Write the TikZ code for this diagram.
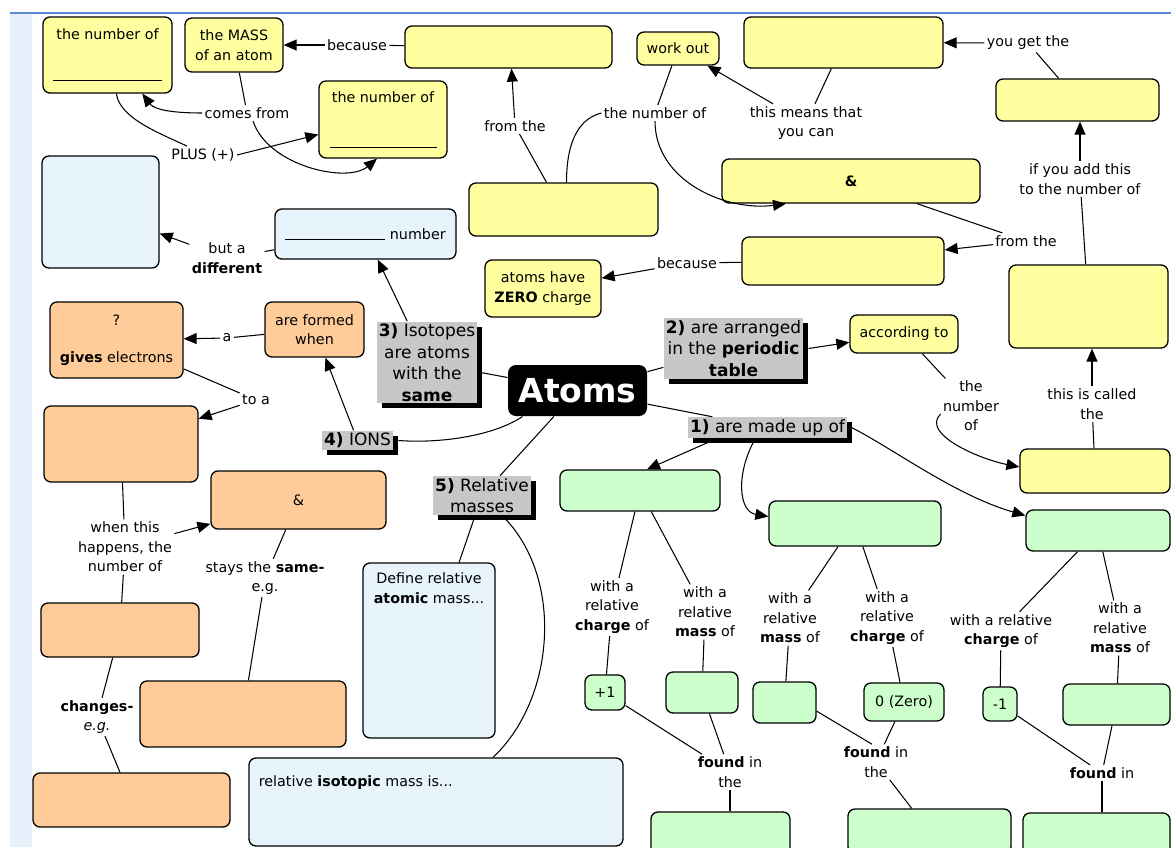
\documentclass[tikz,border=0pt]{standalone}
\usepackage{fontspec}
\setmainfont{DejaVu Sans}
\usetikzlibrary{arrows.meta,shadows}
\definecolor{cmapyellow}{RGB}{255,255,160}
\definecolor{cmaporange}{RGB}{255,204,153}
\definecolor{cmapgreen}{RGB}{204,255,204}
\definecolor{cmapblue}{RGB}{231,244,252}
\definecolor{cmapframe}{RGB}{90,140,210}
\definecolor{cmapstrip}{RGB}{232,240,251}

\begin{document}
\begin{tikzpicture}[x=1pt,y=-1pt,line width=1.05pt,
  font=\fontsize{14.3}{19.5}\selectfont,
  >={Triangle[length=13pt,width=11pt]},
  cbox/.style={draw,rounded corners=7pt,line width=1.3pt,align=center,inner sep=2pt},
  ybox/.style={cbox,fill=cmapyellow},
  obox/.style={cbox,fill=cmaporange},
  gbox/.style={cbox,fill=cmapgreen},
  bbox/.style={cbox,fill=cmapblue},
  phrase/.style={align=center,inner sep=2pt},
  topic/.style={fill=black!22,align=center,inner sep=2pt,font=\fontsize{17}{21.5}\selectfont,
    general shadow={fill=black,shadow xshift=5pt,shadow yshift=-5pt}}]
  \useasboundingbox (0,0) rectangle (1171,847);
  \fill[white] (0,0) rectangle (1171,847);
  \fill[cmapstrip] (10,13) rectangle (32,847);
  \draw[cmapframe,line width=1.2pt] (10,13)--(1171,13);

  \node[ybox,minimum width=129pt,minimum height=76pt] (y1) at (107.5,55) {the number of\\[22pt]\rule{109pt}{0.8pt}};
  \node[ybox,minimum width=98pt,minimum height=54pt] (y2) at (234,45) {the MASS\\of an atom};
  \node[ybox,minimum width=207pt,minimum height=42pt] (y3) at (508.5,47) {};
  \node[ybox,minimum width=128pt,minimum height=77pt] (y4) at (383,119.5) {the number of\\[26pt]\rule{107pt}{0.8pt}};
  \node[ybox,minimum width=82pt,minimum height=33pt] (y5) at (678,48.5) {work out};
  \node[ybox,minimum width=199pt,minimum height=51pt] (y6) at (843.5,42.5) {};
  \node[ybox,minimum width=163pt,minimum height=42pt] (y7) at (1077.5,100) {};
  \node[ybox,minimum width=258pt,minimum height=44pt] (y8) at (851,181) {\textbf{\&}};
  \node[ybox,minimum width=202pt,minimum height=48pt] (y9) at (843,261) {};
  \node[ybox,minimum width=189pt,minimum height=53pt] (y10) at (563.5,209.5) {};
  \node[ybox,minimum width=116pt,minimum height=57pt] (y11) at (543,288.5) {atoms have\\\textbf{ZERO} charge};
  \node[ybox,minimum width=159pt,minimum height=83pt] (y12) at (1088.5,306.5) {};
  \node[ybox,minimum width=108pt,minimum height=38pt] (y13) at (904,334) {according to};
  \node[ybox,minimum width=150pt,minimum height=44pt] (y14) at (1095,471) {};

  \node[bbox,minimum width=117pt,minimum height=112pt] (b1) at (100.5,212) {};
  \node[bbox,minimum width=181pt,minimum height=50pt] (b2) at (365.5,234) {\rule{100pt}{0.7pt} number};
  \node[bbox,minimum width=132pt,minimum height=175pt] (b3) at (429,650.5) {};
  \node[bbox,minimum width=374pt,minimum height=88pt] (b4) at (436,802) {};
  \node[phrase,anchor=north] (b3txt) at ([yshift=-8pt]b3.north) {Define relative\\\textbf{atomic} mass...};
  \node[phrase,anchor=west] (b4txt) at ([xshift=8pt,yshift=-25pt]b4.north west) {relative \textbf{isotopic} mass is...};

  \node[obox,minimum width=133pt,minimum height=76pt] (o1) at (116.5,340) {?\\[18pt]\textbf{gives} electrons};
  \node[obox,minimum width=99pt,minimum height=55pt] (o2) at (314.5,329.5) {are formed\\when};
  \node[obox,minimum width=154pt,minimum height=76pt] (o3) at (121,444) {};
  \node[obox,minimum width=175pt,minimum height=58pt] (o4) at (298.5,500) {\&};
  \node[obox,minimum width=158pt,minimum height=54pt] (o5) at (120,630) {};
  \node[obox,minimum width=206pt,minimum height=66pt] (o6) at (243,714) {};
  \node[obox,minimum width=197pt,minimum height=54pt] (o7) at (131.5,800) {};

  \node[gbox,minimum width=160pt,minimum height=41pt] (g1) at (640,490.5) {};
  \node[gbox,minimum width=172pt,minimum height=45pt] (g2) at (855,523.5) {};
  \node[gbox,minimum width=144pt,minimum height=41pt] (g3) at (1098,530.5) {};
  \node[gbox,minimum width=40pt,minimum height=35pt] (g4) at (605,692.5) {+1};
  \node[gbox,minimum width=72pt,minimum height=41pt] (g5) at (702,692.5) {};
  \node[gbox,minimum width=63pt,minimum height=41pt] (g6) at (784.5,702.5) {};
  \node[gbox,minimum width=80pt,minimum height=38pt] (g7) at (904,702) {0 (Zero)};
  \node[gbox,minimum width=34pt,minimum height=34pt] (g8) at (1000,704) {-1};
  \node[gbox,minimum width=107pt,minimum height=41pt] (g9) at (1116.5,704.5) {};
  \node[gbox,minimum width=139pt,minimum height=45pt] (g10) at (720.5,834.5) {};
  \node[gbox,minimum width=163pt,minimum height=45pt] (g11) at (929.5,831.5) {};
  \node[gbox,minimum width=147pt,minimum height=45pt] (g12) at (1096.5,835.5) {};

  \node[topic] (t3) at (427,362.5) {\textbf{3)} Isotopes\\are atoms\\with the\\\textbf{same}};
  \node[topic] (t4) at (357.5,440.5) {\textbf{4)} IONS};
  \node[topic] (t2) at (733.5,348.5) {\textbf{2)} are arranged\\in the \textbf{periodic}\\\textbf{table}};
  \node[topic] (t1) at (767.5,427.5) {\textbf{1)} are made up of};
  \node[topic] (t5) at (482,495.5) {\textbf{5)} Relative\\masses};
  \node[fill=black,text=white,rounded corners=8pt,minimum width=139pt,minimum height=51pt,
    font=\fontsize{33}{36}\selectfont\bfseries] (atoms) at (577.5,390.5) {Atoms};

  \node[phrase] (lbec1) at (357,45) {because};
  \node[phrase] (lcomes) at (247,113) {comes from};
  \node[phrase] (lplus) at (203,155) {PLUS (+)};
  \node[phrase] (lfrom1) at (515,126) {from the};
  \node[phrase] (lnum1) at (655,113) {the number of};
  \node[phrase] (lmeans) at (806,123) {this means that\\you can};
  \node[phrase] (lyouget) at (1028,43) {you get the};
  \node[phrase] (lifadd) at (1080,179) {if you add this\\to the number of};
  \node[phrase] (lfrom2) at (1026,241) {from the};
  \node[phrase] (lbec2) at (687,263) {because};
  \node[phrase] (lbuta) at (227,258) {but a\\\textbf{different}};
  \node[phrase] (la) at (227,338) {a};
  \node[phrase] (ltoa) at (256,400) {to a};
  \node[phrase] (lwhen) at (125,547) {when this\\happens, the\\number of};
  \node[phrase] (lstays) at (265,578) {stays the \textbf{same-}\\e.g.};
  \node[phrase] (lchanges) at (97,717) {\textbf{changes-}\\\textit{e.g.}};
  \node[phrase] (laccnum) at (971,406) {the\\number\\of};
  \node[phrase] (lcalled) at (1092,404) {this is called\\the};
  \node[phrase] (lch1) at (612,607) {with a\\relative\\\textbf{charge} of};
  \node[phrase] (lma1) at (705,612) {with a\\relative\\\textbf{mass} of};
  \node[phrase] (lma2) at (790,618) {with a\\relative\\\textbf{mass} of};
  \node[phrase] (lch2) at (887,618) {with a\\relative\\\textbf{charge} of};
  \node[phrase] (lch3) at (1001,631) {with a relative\\\textbf{charge} of};
  \node[phrase] (lma3) at (1120,628) {with a\\relative\\\textbf{mass} of};
  \node[phrase] (lfound1) at (730,772) {\textbf{found} in\\the};
  \node[phrase] (lfound2) at (876,762) {\textbf{found} in\\the};
  \node[phrase] (lfound3) at (1102,773) {\textbf{found} in};

  \draw (y3) -- (lbec1);
  \draw[->] (lbec1) -- (y2);
  \draw (y2) -- (lcomes);
  \draw[->] (lcomes.west) .. controls +(-30,0) and +(12,16) .. (y1.-48);
  \draw (y1.-77) .. controls +(3,25) and +(-25,-12) .. ([xshift=-16pt]lplus.north);
  \draw[->] (lplus.east) -- ([yshift=-15pt]y4.west);
  \draw[->] ([xshift=6pt]lcomes.south) .. controls +(15,45) and +(-30,25) .. ([xshift=-6pt]y4.south);
  \draw ([xshift=-17pt]y10.north) -- (lfrom1);
  \draw[->] (lfrom1) -- ([xshift=3pt]y3.south);
  \draw ([xshift=3pt]y10.north) .. controls +(0,-45) and +(-20,5) .. (lnum1.west);
  \draw (y5) -- (lnum1);
  \draw[->] (lnum1.south) .. controls +(0,60) and +(-60,8) .. ([xshift=-65pt]y8.south);
  \draw (y6) -- (lmeans);
  \draw[->] (lmeans) -- (y5);
  \draw[->] (lyouget) -- (y6);
  \draw (y7) -- (lyouget);
  \draw[->] (lifadd) -- (lifadd |- y7.south);
  \draw (y12) -- (lifadd);
  \draw (y8) -- (lfrom2);
  \draw[->] (lfrom2) -- (y9);
  \draw (y9) -- (lbec2);
  \draw[->] (lbec2) -- (y11);
  \draw (b2) -- (lbuta);
  \draw[->] (lbuta) -- (b1);
  \draw (o2) -- (la);
  \draw[->] (la) -- (o1);
  \draw (o1) -- (ltoa);
  \draw[->] (ltoa) -- (o3);
  \draw (o3) -- (lwhen);
  \draw[->] (lwhen) -- (o4);
  \draw (lwhen) -- (o5);
  \draw (o4) -- (lstays);
  \draw (lstays) -- (o6);
  \draw (o5) -- (lchanges);
  \draw (lchanges) -- (o7);
  \draw[->] (t3) -- (b2);
  \draw[->] (t4) -- (o2);
  \draw (atoms) -- (t3);
  \draw ([xshift=-55pt]atoms.south) .. controls +(-30,20) and +(40,3) .. ([xshift=5pt]t4.east);
  \draw (atoms) -- (t5);
  \draw (t5) -- (b3);
  \draw ([xshift=20pt]t5.south) .. controls +(63,62) and +(62,-58) .. ([xshift=57pt]b4.north);
  \draw (atoms) -- (t2);
  \draw[->] ([xshift=5pt]t2.east) -- (y13);
  \draw (y13) -- (laccnum);
  \draw[->] ([yshift=-8pt]laccnum.west) .. controls +(-20,20) and +(-40,-8) .. ([yshift=4pt]y14.west);
  \draw[->] (lcalled) -- (lcalled |- y12.south);
  \draw (y14) -- (lcalled);
  \draw (atoms) -- (t1);
  \draw[->] ([xshift=-50pt]t1.south) -- ([xshift=7pt]g1.north);
  \draw[->] ([xshift=-12pt]t1.south) .. controls +(-20,35) and +(-30,-5) .. ([yshift=7pt]g2.west);
  \draw[->] ([xshift=4pt]t1.east) .. controls +(40,20) and +(-70,-20) .. ([yshift=15pt]g3.west);
  \draw (g1) -- (lch1);
  \draw (g1) -- (lma1);
  \draw (lch1) -- (g4);
  \draw (lma1) -- (g5);
  \draw ([xshift=-17pt]g2.south) -- (lma2);
  \draw (lma2) -- (g6);
  \draw (g2) -- (lch2);
  \draw (lch2) -- (g7);
  \draw (g3) -- (lch3);
  \draw (lch3) -- (g8);
  \draw (g3) -- (lma3);
  \draw (lma3) -- (g9);
  \draw (g4) -- (lfound1);
  \draw (g5) -- (lfound1);
  \draw (lfound1) -- (lfound1 |- g10.north);
  \draw (g6.-15) -- ([xshift=-4pt]lfound2.north);
  \draw (g7) -- (lfound2);
  \draw (lfound2) -- (g11);
  \draw (g8) -- (lfound3);
  \draw (g9) -- (lfound3);
  \draw (lfound3) -- (lfound3 |- g12.north);
\end{tikzpicture}
\end{document}
